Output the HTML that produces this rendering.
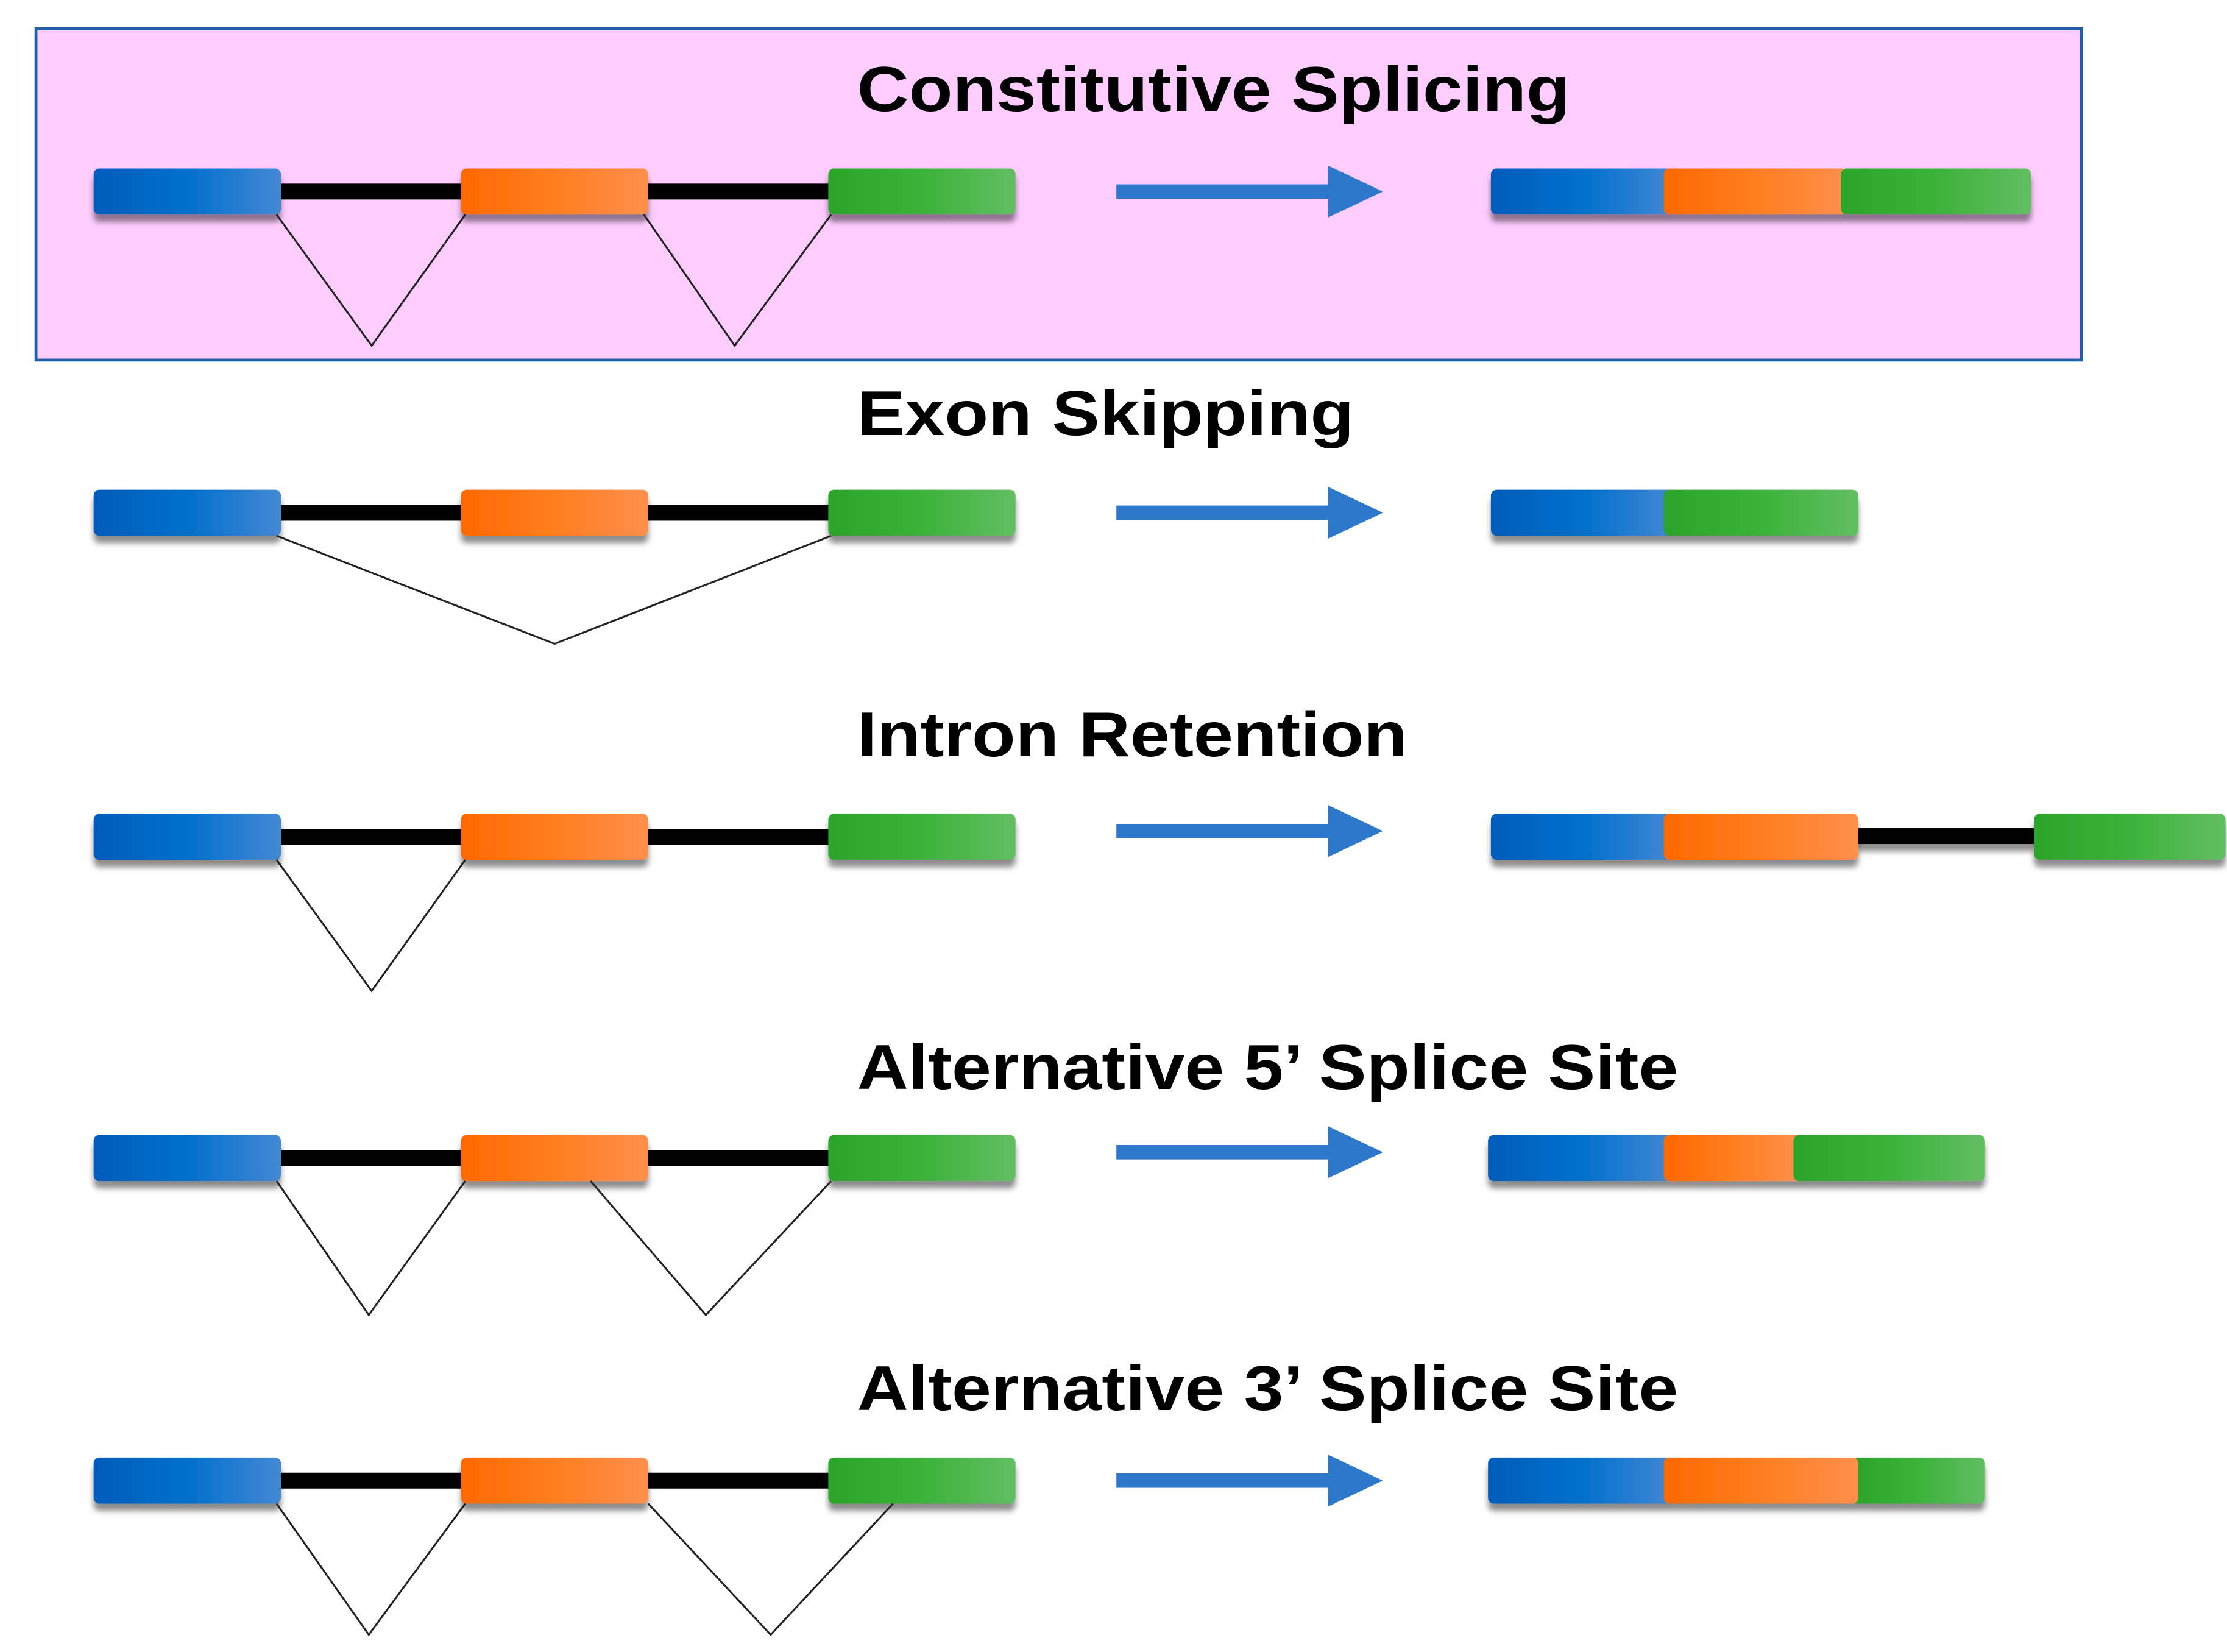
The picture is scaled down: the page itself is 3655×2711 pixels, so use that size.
<!DOCTYPE html>
<html><head><meta charset="utf-8"><style>
html,body{margin:0;padding:0;background:#fff;}
svg{display:block;}
text{font-family:"Liberation Sans",Arial,sans-serif;font-weight:bold;fill:#000;}
</style></head><body>
<svg width="3655" height="2711" viewBox="0 0 1546 1147" preserveAspectRatio="none" xmlns="http://www.w3.org/2000/svg">
<defs>
<linearGradient id="gb" x1="0" x2="1" y1="0" y2="0"><stop offset="0" stop-color="#005cbc"/><stop offset="0.5" stop-color="#0070cc"/><stop offset="1" stop-color="#4488d4"/></linearGradient>
<linearGradient id="go" x1="0" x2="1" y1="0" y2="0"><stop offset="0" stop-color="#ff6800"/><stop offset="0.5" stop-color="#ff7e20"/><stop offset="1" stop-color="#ff8f4c"/></linearGradient>
<linearGradient id="gg" x1="0" x2="1" y1="0" y2="0"><stop offset="0" stop-color="#2ba42a"/><stop offset="0.5" stop-color="#3bb23a"/><stop offset="1" stop-color="#62be62"/></linearGradient>
<filter id="sh" x="-10%" y="-30%" width="120%" height="180%"><feGaussianBlur in="SourceAlpha" stdDeviation="2"/><feOffset dy="5"/><feComponentTransfer><feFuncA type="linear" slope="0.45"/></feComponentTransfer><feMerge><feMergeNode/><feMergeNode in="SourceGraphic"/></feMerge></filter>
<g id="arrow"><rect x="775" y="-5" width="152" height="10" fill="#2e78cc"/><polygon points="922,-18 960,0 922,18" fill="#2e78cc"/></g>
<g id="pre">
<rect x="190" y="-5.5" width="390" height="11" fill="#000"/>
<g filter="url(#sh)">
<rect x="65" y="-16" width="130" height="32" rx="4" fill="url(#gb)"/>
<rect x="320" y="-16" width="130" height="32" rx="4" fill="url(#go)"/>
<rect x="575" y="-16" width="130" height="32" rx="4" fill="url(#gg)"/>
</g>
</g>
</defs>
<rect x="25" y="20" width="1420" height="230" fill="#ffccff" stroke="#1f5fa6" stroke-width="2"/>

<g font-size="44">
<text x="595" y="77" textLength="495" lengthAdjust="spacingAndGlyphs">Constitutive Splicing</text>
<text x="595" y="302" textLength="345" lengthAdjust="spacingAndGlyphs">Exon Skipping</text>
<text x="595" y="525" textLength="382" lengthAdjust="spacingAndGlyphs">Intron Retention</text>
<text x="595" y="756" textLength="570" lengthAdjust="spacingAndGlyphs">Alternative 5’ Splice Site</text>
<text x="595" y="979" textLength="570" lengthAdjust="spacingAndGlyphs">Alternative 3’ Splice Site</text>
</g>

<use href="#pre" transform="translate(0,133)"/>
<use href="#pre" transform="translate(0,356)"/>
<use href="#pre" transform="translate(0,581)"/>
<use href="#pre" transform="translate(0,804)"/>
<use href="#pre" transform="translate(0,1028)"/>

<use href="#arrow" transform="translate(0,133)"/>
<use href="#arrow" transform="translate(0,356)"/>
<use href="#arrow" transform="translate(0,577)"/>
<use href="#arrow" transform="translate(0,800)"/>
<use href="#arrow" transform="translate(0,1028)"/>

<g fill="none" stroke="#222" stroke-width="1.3">
<polyline points="192,149 258,240 323,149"/>
<polyline points="447,149 510,240 577,149"/>
<polyline points="192,372 385,447 577,372"/>
<polyline points="192,597 258,688 323,597"/>
<polyline points="192,820 256,913 323,820"/>
<polyline points="410,820 490,913 577,820"/>
<polyline points="192,1044 256,1135 323,1044"/>
<polyline points="450,1044 535,1135 620,1044"/>
</g>

<g filter="url(#sh)">
<rect x="1035" y="117" width="127" height="32" rx="4" fill="url(#gb)"/>
<rect x="1155" y="117" width="127" height="32" rx="4" fill="url(#go)"/>
<rect x="1278" y="117" width="132" height="32" rx="4" fill="url(#gg)"/>

<rect x="1035" y="340" width="127" height="32" rx="4" fill="url(#gb)"/>
<rect x="1155" y="340" width="135" height="32" rx="4" fill="url(#gg)"/>

<rect x="1285" y="575" width="130" height="11" fill="#000"/>
<rect x="1035" y="565" width="127" height="32" rx="4" fill="url(#gb)"/>
<rect x="1155" y="565" width="135" height="32" rx="4" fill="url(#go)"/>
<rect x="1412" y="565" width="133" height="32" rx="4" fill="url(#gg)"/>

<rect x="1033" y="788" width="129" height="32" rx="4" fill="url(#gb)"/>
<rect x="1155" y="788" width="97" height="32" rx="4" fill="url(#go)"/>
<rect x="1245" y="788" width="133" height="32" rx="4" fill="url(#gg)"/>

<rect x="1033" y="1012" width="129" height="32" rx="4" fill="url(#gb)"/>
<rect x="1285" y="1012" width="93" height="32" rx="4" fill="url(#gg)"/>
<rect x="1155" y="1012" width="135" height="32" rx="4" fill="url(#go)"/>
</g>
</svg>
</body></html>
